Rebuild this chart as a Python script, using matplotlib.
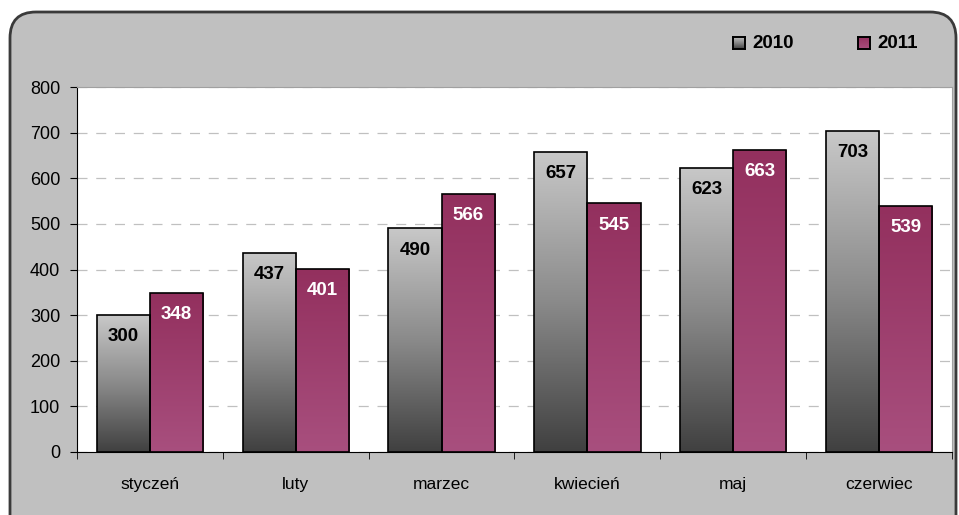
import numpy as np
import matplotlib
matplotlib.use('Agg')
import matplotlib.pyplot as plt
from matplotlib.patches import FancyBboxPatch
from matplotlib.colors import LinearSegmentedColormap

months = ['styczeń', 'luty', 'marzec', 'kwiecień', 'maj', 'czerwiec']
vals_2010 = [300, 437, 490, 657, 623, 703]
vals_2011 = [348, 401, 566, 545, 663, 539]
series = ['2010', '2011']

plt.rcParams['font.family'] = ['Liberation Sans', 'DejaVu Sans']

fig = plt.figure(figsize=(9.59, 5.15), dpi=100)
fig.patch.set_facecolor('white')

# gray rounded panel behind the chart
panel = FancyBboxPatch((10, -30), 946, 515 - 12 + 30,
                       boxstyle='round,pad=0,rounding_size=26',
                       transform=None, facecolor='#c0c0c0',
                       edgecolor='#3a3a3a', linewidth=2, zorder=-10)
fig.patches.append(panel)

ax = fig.add_axes([77 / 959, 63 / 515, 875 / 959, 365 / 515])
ax.set_facecolor('white')

gray_cmap = LinearSegmentedColormap.from_list('g', ['#404040', '#8a8a8a', '#c8c8c8'])
purple_cmap = LinearSegmentedColormap.from_list('p', ['#a84f7e', '#93305e'])

x = np.arange(len(months))
w = 0.365
grad = np.linspace(0, 1, 256).reshape(-1, 1)

for vals, offset, cmap, txtcol in ((vals_2010, -w / 2, gray_cmap, 'black'),
                                   (vals_2011, w / 2, purple_cmap, 'white')):
    bars = ax.bar(x + offset, vals, width=w, facecolor='none',
                  edgecolor='black', linewidth=1.2, zorder=3)
    for b, v in zip(bars, vals):
        x0 = b.get_x()
        im = ax.imshow(grad, cmap=cmap, origin='lower', aspect='auto',
                       extent=(x0, x0 + w, 0, v), zorder=2)
        im.set_clip_path(b)
        ax.annotate(str(v), (x0 + w / 2, v), xytext=(0, -9.5),
                    textcoords='offset points', ha='center', va='top',
                    fontsize=13.5, fontweight='bold', color=txtcol, zorder=4)

ax.set_xlim(-0.5, len(months) - 0.5)
ax.set_ylim(0, 800)
ax.set_yticks(range(0, 801, 100))
ax.yaxis.grid(True, color='#c0c0c0', linestyle=(0, (8, 7)), linewidth=0.9)
ax.set_axisbelow(True)

ax.set_xticks(x)
ax.set_xticklabels(months, fontsize=12.5)
ax.set_xticks(np.arange(-0.5, len(months)), minor=True)
ax.tick_params(axis='x', which='major', length=0, pad=18)
ax.tick_params(axis='x', which='minor', length=5, direction='out', color='black')
ax.tick_params(axis='y', length=5, direction='out', labelsize=13, pad=7)

ax.spines['left'].set_color('black')
ax.spines['bottom'].set_color('black')
ax.spines['top'].set_color('#a0a0a0')
ax.spines['right'].set_color('#a0a0a0')

# legend
leg_items = [(series[0], gray_cmap, 733), (series[1], purple_cmap, 858)]
for name, cmap, px in leg_items:
    lax = fig.add_axes([px / 959, (515 - 49) / 515, 12 / 959, 12 / 515])
    lax.imshow(grad, cmap=cmap, origin='lower', aspect='auto')
    lax.set_xticks([])
    lax.set_yticks([])
    for s in lax.spines.values():
        s.set_linewidth(1.4)
    fig.text((px + 19) / 959, (515 - 43) / 515, name, fontsize=13.5,
             fontweight='bold', va='center', ha='left')

fig.savefig('out.png', dpi=100)
